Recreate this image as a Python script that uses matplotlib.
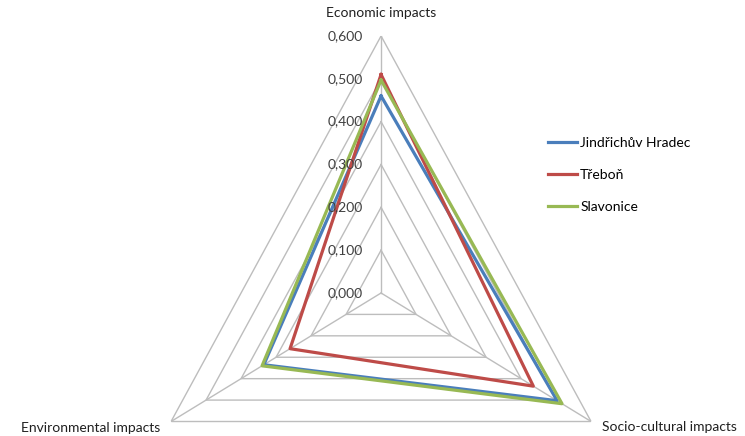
import numpy as np
import matplotlib
matplotlib.use("Agg")
import matplotlib.pyplot as plt

plt.rcParams['font.family'] = ['Lato', 'DejaVu Sans']

categories = ['Economic impacts', 'Socio-cultural impacts', 'Environmental impacts']
series_names = ['Jindřichův Hradec', 'Třeboň', 'Slavonice']
jindrichuv_hradec = [0.460, 0.503, 0.335]
trebon = [0.510, 0.435, 0.260]
slavonice = [0.497, 0.517, 0.340]
ticks = [0.0, 0.1, 0.2, 0.3, 0.4, 0.5, 0.6]
tick_labels = ['0,000', '0,100', '0,200', '0,300', '0,400', '0,500', '0,600']

colors = ['#4A7EBB', '#BE4B48', '#98B954']
grid_color = '#BDBDBD'

fig = plt.figure(figsize=(7.45, 4.36), dpi=100)
# axes box sized so the radar is a bit narrower than tall, like the original
ax = fig.add_axes([0.186, -0.2615, 0.651, 1.179], projection='polar')
ax.set_theta_offset(np.pi / 2)
ax.set_theta_direction(-1)
ax.set_aspect('auto')
ax.set_ylim(0, ticks[-1])
ax.grid(False)
ax.spines['polar'].set_visible(False)
ax.set_xticks([])
ax.set_yticks([])
ax.patch.set_visible(False)

angles = np.linspace(0, 2 * np.pi, len(categories), endpoint=False)
closed = np.append(angles, angles[0])

# triangular grid rings and spokes
for t in ticks[1:]:
    ax.plot(closed, [t] * len(closed), color=grid_color, lw=1.0, zorder=1)
for a in angles:
    ax.plot([a, a], [0, ticks[-1]], color=grid_color, lw=1.0, zorder=1)

for name, vals, c in zip(series_names, [jindrichuv_hradec, trebon, slavonice], colors):
    ax.plot(closed, vals + vals[:1], color=c, lw=2.3, label=name, zorder=3)

# value labels along the top axis
for t, lab in zip(ticks, tick_labels):
    ax.annotate(lab, xy=(0, t), xytext=(-13, 0), textcoords='offset points',
                ha='right', va='center', fontsize=10, color='#404040', zorder=5)

# category labels
offsets = [(0, 12, 'center', 'bottom'), (8, -4, 'left', 'center'), (-8, -5, 'right', 'center')]
for a, cat, (dx, dy, ha, va) in zip(angles, categories, offsets):
    ax.annotate(cat, xy=(a, ticks[-1]), xytext=(dx, dy), textcoords='offset points',
                ha=ha, va=va, fontsize=10, color='#202020')

fig.legend(loc='upper left', bbox_to_anchor=(0.719, 0.715), frameon=False,
           fontsize=10, handlelength=2.1, handletextpad=0.2, labelspacing=1.45)

fig.savefig('out.png', dpi=100, facecolor='white')
